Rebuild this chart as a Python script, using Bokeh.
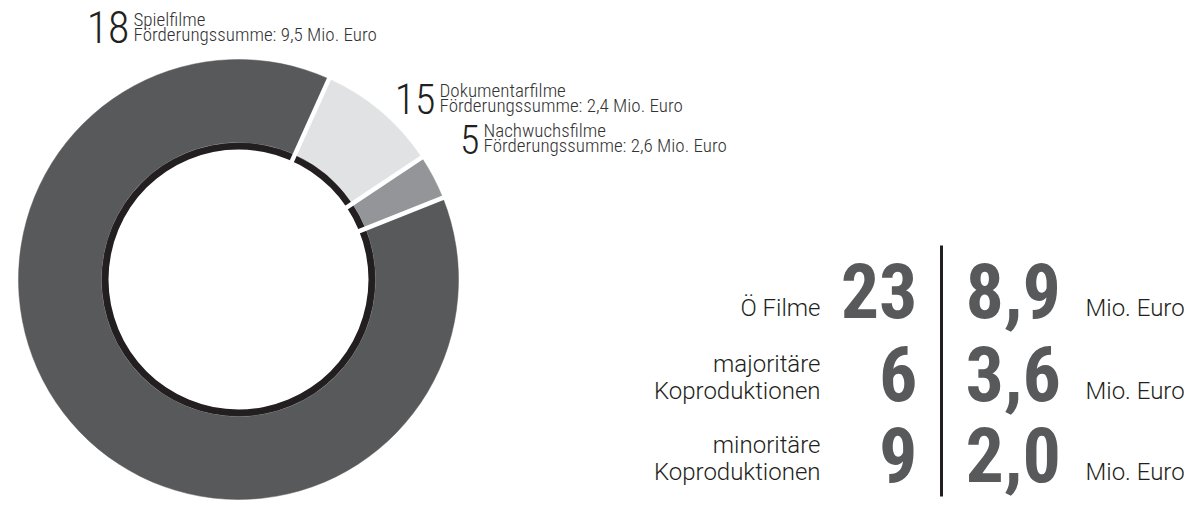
import math
from bokeh.plotting import figure
from bokeh.models import Range1d, ColumnDataSource
from bokeh.core.properties import value
from bokeh.embed import file_html
from bokeh.resources import INLINE

# ---------------- data ----------------
categories = ["Spielfilme", "Dokumentarfilme", "Nachwuchsfilme"]
film_counts = [18, 15, 5]
funding_mio = [9.5, 2.4, 2.6]
slice_shares = [87.8, 8.9, 3.3]          # share of the ring in percent
slice_colors = ["#58595b", "#e1e2e3", "#939598"]

table_labels = [["Ö Filme"], ["majoritäre", "Koproduktionen"], ["minoritäre", "Koproduktionen"]]
table_counts = [23, 6, 9]
table_amounts = [8.9, 3.6, 2.0]
amount_unit = "Mio. Euro"
funding_prefix = "Förderungssumme: "

# ---------------- layout ----------------
W, H = 1184, 500
NARROW = value("Roboto Condensed")
NARROW_LIGHT = value("Roboto Condensed Light, Roboto Condensed")
SANS = value("Roboto Light, Liberation Sans")
K = 0.345   # baseline offset (fraction of font size) for 'middle' anchored text


def ty(baseline, size):
    return -(baseline - K * size)


p = figure(width=W, height=H,
           x_range=Range1d(0, W), y_range=Range1d(-H, 0),
           output_backend="svg", toolbar_location=None, min_border=0,
           x_axis_location=None, y_axis_location=None)
p.grid.visible = False
p.outline_line_color = None
p.background_fill_color = "white"
p.border_fill_color = "white"

# donut geometry (y = -pixel row)
cx, cy = 238, -279
r_in, r_ring, r_out = 130, 137, 220
start_cw = 68.2   # degrees clockwise from top where first slice begins

starts, ends, bounds = [], [], []
cum = start_cw
for s in slice_shares:
    t1 = cum
    t2 = cum + s * 3.6
    starts.append(math.radians(90 - t2))
    ends.append(math.radians(90 - t1))
    bounds.append(t1)
    cum = t2

p.annulus(x=cx, y=cy, inner_radius=r_in, outer_radius=r_ring,
          fill_color="#231f20", line_color=None)

src = ColumnDataSource(dict(start=starts, end=ends, color=slice_colors))
p.annular_wedge(x=cx, y=cy, inner_radius=r_ring, outer_radius=r_out,
                start_angle="start", end_angle="end", direction="anticlock",
                fill_color="color", line_color="color", line_width=0.5, source=src)

x0 = [cx + (r_in - 4) * math.sin(math.radians(t)) for t in bounds]
y0 = [cy + (r_in - 4) * math.cos(math.radians(t)) for t in bounds]
x1 = [cx + (r_out + 4) * math.sin(math.radians(t)) for t in bounds]
y1 = [cy + (r_out + 4) * math.cos(math.radians(t)) for t in bounds]
p.segment(x0=x0, y0=y0, x1=x1, y1=y1, line_color="white", line_width=4.5)

# donut labels
num_base = [42, 113, 153]
num_size = [44, 42, 40]
txt_x = [133, 439, 483]
TXT = 19
line_gap = 16

for i, cat in enumerate(categories):
    p.text(x=[txt_x[i] - 4], y=[ty(num_base[i], num_size[i])], text=[str(film_counts[i])],
           text_font=NARROW_LIGHT, text_font_size=f"{num_size[i]}px", text_color="#231f20",
           text_align="right", text_baseline="middle")
    p.text(x=[txt_x[i]], y=[ty(num_base[i] - line_gap, TXT)], text=[cat],
           text_font=NARROW_LIGHT, text_font_size=f"{TXT}px", text_color="#333333",
           text_align="left", text_baseline="middle")
    amt = f"{funding_mio[i]:.1f}".replace(".", ",")
    p.text(x=[txt_x[i]], y=[ty(num_base[i] - 1, TXT)], text=[f"{funding_prefix}{amt} Mio. Euro"],
           text_font=NARROW_LIGHT, text_font_size=f"{TXT}px", text_color="#333333",
           text_align="left", text_baseline="middle")

# table on the right
row_base = [317, 400, 481]
label_right = 820
count_right = 917
div_x = 941
amount_left = 965
unit_left = 1085
label_gap = 27
BIG = 76
LBL = 24

for i in range(len(table_counts)):
    b = row_base[i]
    lines = table_labels[i]
    for j, ln in enumerate(lines):
        yb = b - 1 - (len(lines) - 1 - j) * label_gap
        p.text(x=[label_right], y=[ty(yb, LBL)], text=[ln], text_font=SANS,
               text_font_size=f"{LBL}px", text_color="#231f20",
               text_align="right", text_baseline="middle")
    p.text(x=[count_right], y=[ty(b, BIG)], text=[str(table_counts[i])], text_font=NARROW,
           text_font_style="bold", text_font_size=f"{BIG}px", text_color="#58595b",
           text_align="right", text_baseline="middle")
    p.text(x=[amount_left], y=[ty(b, BIG)], text=[f"{table_amounts[i]:.1f}".replace(".", ",")],
           text_font=NARROW, text_font_style="bold", text_font_size=f"{BIG}px",
           text_color="#58595b", text_align="left", text_baseline="middle")
    p.text(x=[unit_left], y=[ty(b - 1, LBL)], text=[amount_unit], text_font=SANS,
           text_font_size=f"{LBL}px", text_color="#231f20",
           text_align="left", text_baseline="middle")

p.segment(x0=[div_x], y0=[-245], x1=[div_x], y1=[-496],
          line_color="#231f20", line_width=3)

open("out.html", "w").write(file_html(p, INLINE))
